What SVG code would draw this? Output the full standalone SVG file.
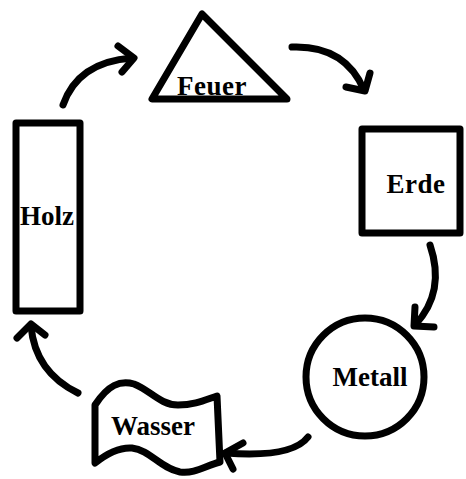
<svg xmlns="http://www.w3.org/2000/svg" width="466" height="479" viewBox="0 0 466 479">
<style>
.s{fill:#fff;stroke:#000;stroke-width:7;stroke-linejoin:round}
.t{font-family:"Liberation Serif","Times New Roman",serif;font-weight:bold;font-size:27px;fill:#000;text-anchor:middle}
.c{fill:none;stroke:#000;stroke-width:7;stroke-linecap:round;stroke-linejoin:round}
</style>
<rect width="466" height="479" fill="#fff"/>
<g id="feuer">
<polygon class="s" points="202,14 152,99 287,99"/>
<text class="t" x="212" y="95" letter-spacing="0.5">Feuer</text>
</g>
<g id="erde">
<rect class="s" x="362" y="129" width="98" height="104" stroke-width="8"/>
<text class="t" x="416" y="193" letter-spacing="0.5">Erde</text>
</g>
<g id="metall">
<circle class="s" cx="365" cy="377" r="59" stroke-width="6"/>
<text class="t" x="370" y="386">Metall</text>
</g>
<g id="wasser">
<path class="s" d="M95,405 C108,385 120,380 134,384 C150,390 160,405 178,405 C195,405 205,400 217,396 L220,462 C205,466 195,474 180,472 C160,468 150,450 132,448 C118,447 105,455 95,463 Z"/>
<text class="t" x="153" y="435">Wasser</text>
</g>
<g id="holz">
<rect class="s" x="16" y="123" width="64" height="188" stroke-width="8"/>
<text class="t" x="47" y="225">Holz</text>
</g>
<g id="connectors">
<path class="c" d="M63,105 Q78,62 132,58"/>
<path class="c" d="M118,46 L134,58 L122,72"/>
<path class="c" d="M292,47 Q345,45 364,90"/>
<path class="c" d="M370,73 L365,91 L346,87"/>
<path class="c" d="M430,245 Q446,292 415,325"/>
<path class="c" d="M415,307 L414,326 L434,327"/>
<path class="c" d="M308,437 Q292,458 226,453"/>
<path class="c" d="M243,443 L225,453 L233,469"/>
<path class="c" d="M78,393 Q35,372 31,326"/>
<path class="c" d="M17,338 L31,324 L45,335"/>
</g>
</svg>
